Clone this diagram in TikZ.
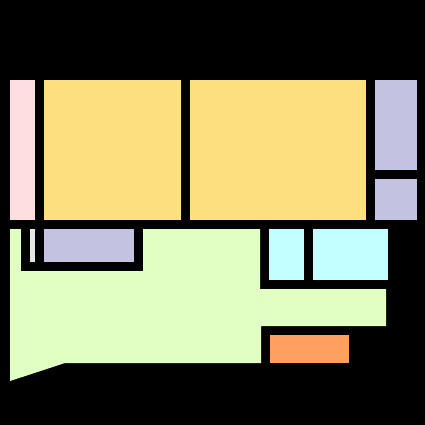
\documentclass[tikz,border=0pt]{standalone}
\definecolor{cpink}{HTML}{FFDEE0}
\definecolor{cyellow}{HTML}{FCDF7E}
\definecolor{clav}{HTML}{C3C3E1}
\definecolor{cgreen}{HTML}{E1FFC3}
\definecolor{ccyan}{HTML}{C3FFFF}
\definecolor{corange}{HTML}{FFA060}
\definecolor{cgray}{HTML}{E6E6E6}
\begin{document}
\begin{tikzpicture}[x=1pt,y=-1pt]
\fill[black] (0,0) rectangle (425,425);
\useasboundingbox (0,0) rectangle (425,425);
% top row
\fill[cpink] (10,80) rectangle (35,220);
\fill[cyellow] (44,80) rectangle (181,220);
\fill[cyellow] (190,80) rectangle (366,220);
\fill[clav] (375,80) rectangle (417,170);
\fill[clav] (375,179) rectangle (417,220);
% green region
\fill[cgreen] (10,229) -- (260,229) -- (260,289) -- (386,289) -- (386,326)
  -- (261,326) -- (261,363) -- (65,363) -- (10,381) -- cycle;
\fill[black] (21,229) rectangle (143,271);
\fill[cgray] (30,229) rectangle (35,262);
\fill[clav] (44,229) rectangle (134,262);
% right lower
\fill[ccyan] (269,229) rectangle (304,280);
\fill[ccyan] (313,229) rectangle (388,280);
\fill[corange] (270,335) rectangle (349,363);
\end{tikzpicture}
\end{document}
